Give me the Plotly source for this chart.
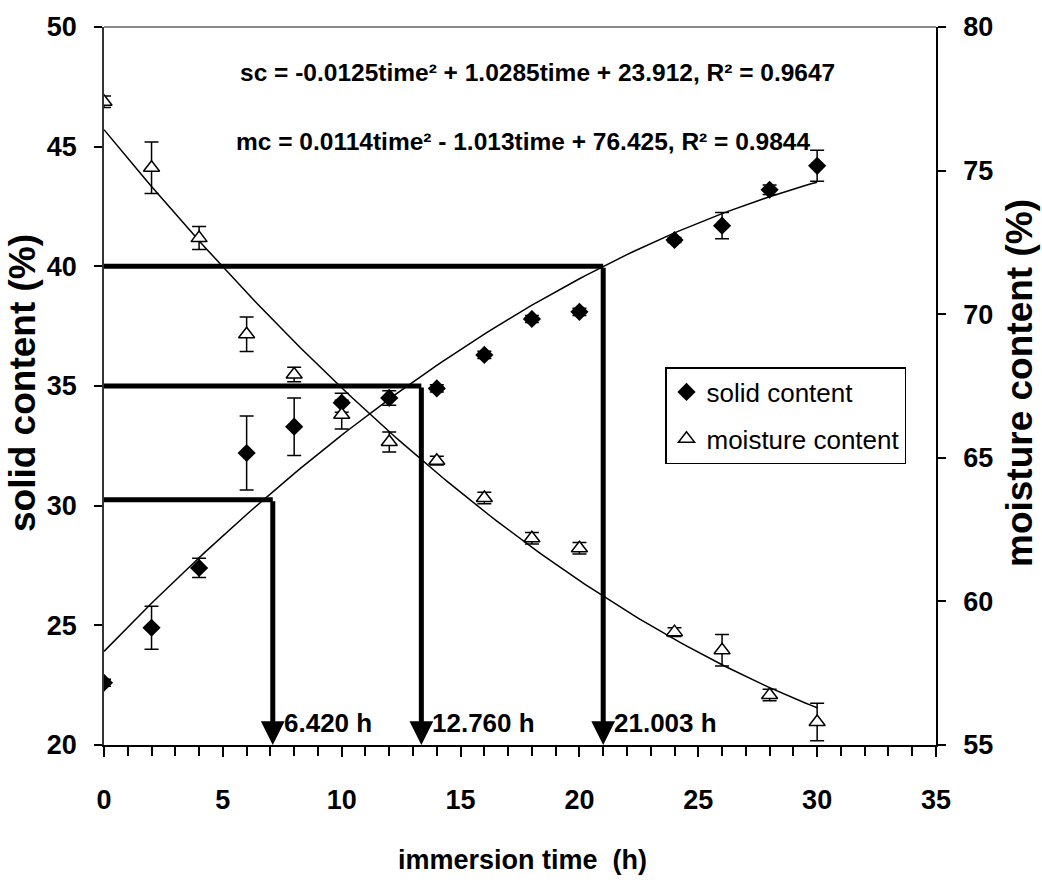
import numpy as np
import plotly.graph_objects as go

# ---------------- data ----------------
time_h = [0, 2, 4, 6, 8, 10, 12, 14, 16, 18, 20, 24, 26, 28, 30]
solid_content = [22.6, 24.9, 27.4, 32.2, 33.3, 34.3, 34.5, 34.9, 36.3, 37.8, 38.1, 41.1, 41.7, 43.2, 44.2]
solid_err = [0.15, 0.9, 0.4, 1.55, 1.2, 0.4, 0.3, 0.15, 0.15, 0.15, 0.15, 0.1, 0.55, 0.2, 0.65]
moisture_content = [77.4, 75.1, 72.65, 69.3, 67.9, 66.5, 65.55, 64.9, 63.6, 62.2, 61.85, 58.93, 58.3, 56.74, 55.8]
moisture_err = [0.2, 0.9, 0.4, 0.6, 0.25, 0.5, 0.35, 0.15, 0.2, 0.2, 0.2, 0.15, 0.55, 0.2, 0.65]

sc_coef = [-0.0125, 1.0285, 23.912]   # quadratic fit coefficients (a, b, c)
mc_coef = [0.0114, -1.013, 76.425]

target_levels = [30.25, 35.0, 40.0]        # solid content targets (%)
target_times = [7.1, 13.35, 21.0]          # where drawn guide lines drop
target_labels = ["6.420 h", "12.760 h", "21.003 h"]

eq_sc = "sc = -0.0125time² + 1.0285time + 23.912, R² = 0.9647"
eq_mc = "mc = 0.0114time² - 1.013time + 76.425, R² = 0.9844"

x_ticks = [0, 5, 10, 15, 20, 25, 30, 35]
y_ticks = [20, 25, 30, 35, 40, 45, 50]
y2_ticks = [55, 60, 65, 70, 75, 80]

SANS = "Liberation Sans, Arial, sans-serif"

fig = go.Figure()

# fitted trend curves
t_fit = np.linspace(min(time_h), max(time_h), 121)
fig.add_trace(go.Scatter(x=t_fit, y=np.polyval(sc_coef, t_fit), mode="lines",
                         line=dict(color="black", width=1.5), showlegend=False,
                         hoverinfo="skip"))
fig.add_trace(go.Scatter(x=t_fit, y=np.polyval(mc_coef, t_fit), mode="lines",
                         line=dict(color="black", width=1.5), showlegend=False,
                         hoverinfo="skip", yaxis="y2"))

# thick horizontal guide lines
for lvl, tx in zip(target_levels, target_times):
    fig.add_trace(go.Scatter(x=[0, tx], y=[lvl, lvl], mode="lines",
                             line=dict(color="black", width=5), showlegend=False,
                             hoverinfo="skip", cliponaxis=False))

# data points
fig.add_trace(go.Scatter(
    x=time_h, y=solid_content, mode="markers", name="solid content",
    legendgroup="sc",
    marker=dict(symbol="diamond", size=14, color="black"),
    error_y=dict(type="data", array=solid_err, visible=True, color="black",
                 thickness=1.5, width=7)))
fig.add_trace(go.Scatter(
    x=time_h, y=moisture_content, mode="markers", name="moisture content",
    legendgroup="mc", yaxis="y2",
    marker=dict(symbol="triangle-up", size=14, color="white",
                line=dict(color="black", width=1.5)),
    error_y=dict(type="data", array=moisture_err, visible=True, color="black",
                 thickness=1.5, width=7)))

annotations = []
for lvl, tx, lab in zip(target_levels, target_times, target_labels):
    annotations.append(dict(x=tx, y=20, ax=tx, ay=lvl, xref="x", yref="y",
                            axref="x", ayref="y", text="", showarrow=True,
                            arrowhead=2, arrowwidth=5, arrowsize=0.95,
                            arrowcolor="black", standoff=0, startstandoff=0))
    annotations.append(dict(x=tx, y=20, xref="x", yref="y", text=lab,
                            showarrow=False, xanchor="left", yanchor="bottom",
                            xshift=9, yshift=5,
                            font=dict(family=SANS, size=26, color="black",
                                      weight="bold")))

annotations += [
    dict(x=0.161, y=0.937, xref="paper", yref="paper", text=eq_sc, showarrow=False,
         xanchor="left", yanchor="middle",
         font=dict(family=SANS, size=24.5, color="black", weight="bold")),
    dict(x=0.156, y=0.84, xref="paper", yref="paper", text=eq_mc, showarrow=False,
         xanchor="left", yanchor="middle",
         font=dict(family=SANS, size=24.5, color="black", weight="bold")),
    dict(x=(522 - 104) / 832, y=-(860 - 745) / 718, xref="paper", yref="paper",
         text="immersion time  (h)", showarrow=False, xanchor="center",
         yanchor="middle",
         font=dict(family=SANS, size=27, color="black", weight="bold")),
    dict(x=-(104 - 23) / 832, y=(745 - 383) / 718, xref="paper", yref="paper",
         text="solid content (%)", showarrow=False, textangle=-90,
         xanchor="center", yanchor="middle",
         font=dict(family=SANS, size=37, color="black", weight="bold")),
    dict(x=1 + (1020 - 936) / 832, y=(745 - 383) / 718, xref="paper", yref="paper",
         text="moisture content (%)", showarrow=False, textangle=-90,
         xanchor="center", yanchor="middle",
         font=dict(family=SANS, size=37, color="black", weight="bold")),
]

fig.update_layout(
    width=1042, height=885,
    margin=dict(l=104, r=106, t=27, b=140),
    paper_bgcolor="white", plot_bgcolor="white",
    showlegend=True,
    legend=dict(x=(665 - 104) / 832, y=(745 - 367) / 718, xanchor="left",
                yanchor="top", bgcolor="white", bordercolor="black",
                borderwidth=1.5, tracegroupgap=10,
                font=dict(family=SANS, size=26, color="black")),
    xaxis=dict(range=[0, 35], tickvals=x_ticks, ticks="outside", ticklen=10,
               tickwidth=1.5, tickcolor="black", showline=True, linecolor="black",
               linewidth=2, showgrid=False, zeroline=False,
               minor=dict(dtick=1, ticks="outside", ticklen=9, tickwidth=1.5,
                          tickcolor="black", showgrid=False),
               ticklabelstandoff=20,
               tickfont=dict(family=SANS, size=27, color="black", weight="bold")),
    yaxis=dict(range=[20, 50], tickvals=y_ticks, ticks="outside", ticklen=8,
               tickwidth=1.5, tickcolor="black", showline=True, linecolor="#333",
               linewidth=1.5, showgrid=False, zeroline=False,
               ticklabelstandoff=12,
               tickfont=dict(family=SANS, size=27, color="black", weight="bold")),
    yaxis2=dict(range=[55, 80], tickvals=y2_ticks, overlaying="y", side="right",
                ticks="outside", ticklen=8, tickwidth=1.5, tickcolor="black",
                showline=True, linecolor="black", linewidth=1.5, showgrid=False,
                zeroline=False, ticklabelstandoff=12,
                tickfont=dict(family=SANS, size=27, color="black", weight="bold")),
    shapes=[dict(type="line", xref="paper", yref="paper", x0=0, x1=1, y0=1, y1=1,
                 line=dict(color="#8a8a8a", width=2))],
    annotations=annotations,
)

fig.write_html("out.html")
